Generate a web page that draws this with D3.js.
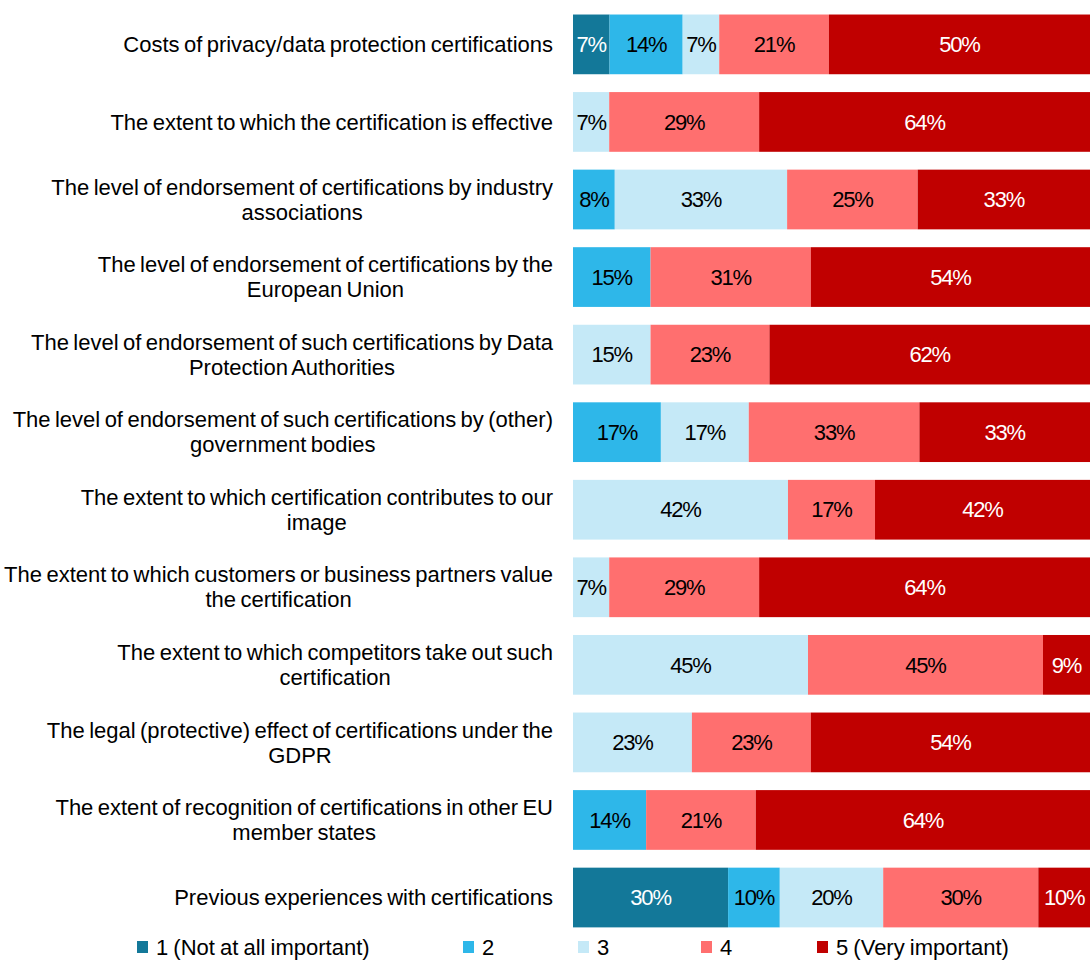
<!DOCTYPE html>
<html>
<head>
<meta charset="utf-8">
<script src="https://cdn.jsdelivr.net/npm/d3@7"></script>
<style>
  html, body { margin: 0; padding: 0; background: #fff; }
  svg { display: block; }
  text { font-family: "Liberation Sans", Arial, sans-serif; }
</style>
</head>
<body>
<svg id="chart" width="1090" height="962"></svg>
<script>
// Survey items (line breaks mark where each label wraps)
const categories = [
  "Costs of privacy/data protection certifications",
  "The extent to which the certification is effective",
  "The level of endorsement of certifications by industry\nassociations",
  "The level of endorsement of certifications by the\nEuropean Union",
  "The level of endorsement of such certifications by Data\nProtection Authorities",
  "The level of endorsement of such certifications by (other)\ngovernment bodies",
  "The extent to which certification contributes to our\nimage",
  "The extent to which customers or business partners value\nthe certification",
  "The extent to which competitors take out such\ncertification",
  "The legal (protective) effect of certifications under the\nGDPR",
  "The extent of recognition of certifications in other EU\nmember states",
  "Previous experiences with certifications"
];

// Importance ratings, 1 (not at all important) to 5 (very important)
const seriesNames = ["1 (Not at all important)", "2", "3", "4", "5 (Very important)"];

// Share of respondents per rating (%) for each item, in category order
const rating1 = [7, 0, 0, 0, 0, 0, 0, 0, 0, 0, 0, 30];
const rating2 = [14, 0, 8, 15, 0, 17, 0, 0, 0, 0, 14, 10];
const rating3 = [7, 7, 33, 0, 15, 17, 42, 7, 45, 23, 0, 20];
const rating4 = [21, 29, 25, 31, 23, 33, 17, 29, 45, 23, 21, 30];
const rating5 = [50, 64, 33, 54, 62, 33, 42, 64, 9, 54, 64, 10];

const seriesColors = ["#137899", "#2eb7e9", "#c5e9f7", "#ff6f6f", "#c00000"];
const labelColors = ["#ffffff", "#000000", "#000000", "#000000", "#ffffff"];

const series = [rating1, rating2, rating3, rating4, rating5];

const svg = d3.select("#chart");
const W = 1090;

// 100% stacked: each row is scaled by its own total
const rows = categories.map((c, i) => {
  const vals = series.map(s => s[i]);
  const total = d3.sum(vals);
  let acc = 0;
  return vals.map((v, k) => {
    const seg = { cat: c, k, v, x0: acc / total, x1: (acc + v) / total };
    acc += v;
    return seg;
  });
});

const x = d3.scaleLinear().domain([0, 1]).range([573, W]);
const y = d3.scaleBand().domain(categories).range([5.6, 936.3])
  .paddingInner(0.23).paddingOuter(0.115);

const g = svg.append("g");

const rowG = g.selectAll("g.row").data(rows).join("g").attr("class", "row");

rowG.selectAll("rect")
  .data(d => d.filter(s => s.v > 0))
  .join("rect")
  .attr("x", d => x(d.x0))
  .attr("y", d => y(d.cat))
  .attr("width", d => x(d.x1) - x(d.x0))
  .attr("height", y.bandwidth())
  .attr("fill", d => seriesColors[d.k]);

rowG.selectAll("text.val")
  .data(d => d.filter(s => s.v > 0))
  .join("text")
  .attr("class", "val")
  .attr("x", d => (x(d.x0) + x(d.x1)) / 2)
  .attr("y", d => y(d.cat) + y.bandwidth() / 2)
  .attr("dy", "0.35em")
  .attr("text-anchor", "middle")
  .attr("font-size", 22)
  .attr("letter-spacing", -1.2)
  .attr("fill", d => labelColors[d.k])
  .text(d => d.v + "%");

// Category labels: block right-aligned to the bars, lines centred within it
const labelRight = 553;
const lineH = 25;
categories.forEach(c => {
  const lines = c.split("\n");
  const t = g.append("text")
    .attr("font-size", 22)
    .attr("word-spacing", -1.7)
    .attr("fill", "#000")
    .attr("text-anchor", "middle");
  const cy = y(c) + y.bandwidth() / 2;
  const top = cy - (lines.length - 1) * lineH / 2;
  const spans = lines.map((ln, j) => t.append("tspan")
    .attr("y", top + j * lineH)
    .attr("dy", "0.35em")
    .text(ln));
  const maxW = d3.max(spans, s => s.node().getComputedTextLength());
  spans.forEach(s => s.attr("x", labelRight - maxW / 2));
});

// Legend
const legendX = [137, 463, 578, 701, 817];
const legend = svg.append("g");
seriesNames.forEach((n, k) => {
  legend.append("rect")
    .attr("x", legendX[k]).attr("y", 941)
    .attr("width", 11).attr("height", 12)
    .attr("fill", seriesColors[k]);
  legend.append("text")
    .attr("x", legendX[k] + 19).attr("y", 947.5)
    .attr("dy", "0.35em")
    .attr("font-size", 22)
    .attr("word-spacing", -1)
    .attr("fill", "#000")
    .text(n);
});
</script>
</body>
</html>
